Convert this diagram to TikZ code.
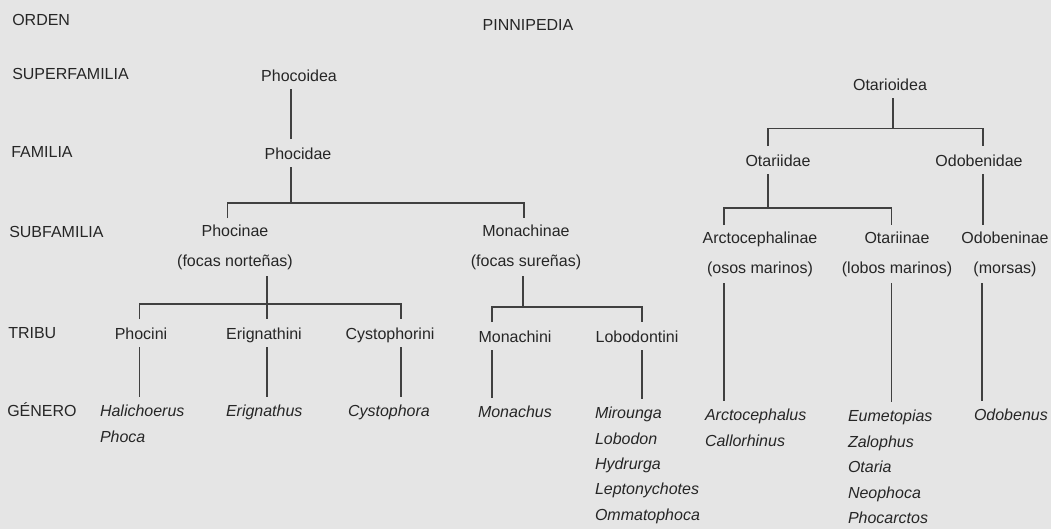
\documentclass[tikz,border=0pt]{standalone}
\usepackage{fontspec}
\setmainfont{Liberation Sans}
\begin{document}
\begin{tikzpicture}[x=0.75pt,y=-0.75pt,
    every node/.style={font=\fontsize{12}{14}\selectfont,text=black!85},
    rango/.style={anchor=base west,inner sep=0pt},
    taxon/.style={anchor=base,inner sep=0pt,text height=8.6pt,text depth=0pt,
                  outer xsep=0pt,outer ysep=6.3pt},
    doble/.style={anchor=north,align=center,inner sep=0pt,outer xsep=0pt,
                  outer ysep=5pt,font=\fontsize{12}{22.5}\selectfont},
    genero/.style={anchor=north west,align=left,inner sep=0pt,outer xsep=0pt,
                   outer ysep=6pt,font=\itshape\fontsize{12}{19.1}\selectfont},
    rama/.style={draw=black!75,line width=1.1pt}]
  \fill[black!10] (0,0) rectangle (1051,529);
  \useasboundingbox (0,0) rectangle (1051,529);
  \foreach \rn/\rx/\ry/\rt in {orden/12/25/ORDEN,superfamilia/12/79/SUPERFAMILIA,
      familia/11/157/FAMILIA,subfamilia/9/237/SUBFAMILIA,tribu/8/338/TRIBU,
      genero/7/416/GÉNERO}
    \node[rango] (r\rn) at (\rx,\ry) {\rt};

  \node[taxon] (pinnipedia) at (528,30) {PINNIPEDIA};
  \node[taxon] (phocoidea) at (299,81) {Phocoidea};
  \node[taxon] (phocidae) at (298,159) {Phocidae};
  \node[taxon] (otarioidea) at (890,90) {Otarioidea};
  \node[taxon] (otariidae) at (778,166) {Otariidae};
  \node[taxon] (odobenidae) at (979,166) {Odobenidae};

  \node[doble] (phocinae) at (235,218) {Phocinae\\(focas norteñas)};
  \node[doble] (monachinae) at (526,218) {Monachinae\\(focas sureñas)};
  \node[doble] (arctocephalinae) at (760,225) {Arctocephalinae\\(osos marinos)};
  \node[doble] (otariinae) at (897,225) {Otariinae\\(lobos marinos)};
  \node[doble] (odobeninae) at (1005,225) {Odobeninae\\(morsas)};

  \node[taxon] (phocini) at (141,339) {Phocini};
  \node[taxon] (erignathini) at (264,339) {Erignathini};
  \node[taxon] (cystophorini) at (390,339) {Cystophorini};
  \node[taxon] (monachini) at (515,342) {Monachini};
  \node[taxon] (lobodontini) at (637,342) {Lobodontini};

  \node[genero] (halichoerus) at (100,397) {Halichoerus\\Phoca};
  \node[genero] (erignathus) at (226,397) {Erignathus};
  \node[genero] (cystophora) at (348,397) {Cystophora};
  \node[genero] (monachus) at (478,398) {Monachus};
  \node[genero] (mirounga) at (595,399)
    {Mirounga\\Lobodon\\Hydrurga\\Leptonychotes\\Ommatophoca};
  \node[genero] (arctocephalus) at (705,401) {Arctocephalus\\Callorhinus};
  \node[genero] (eumetopias) at (848,402)
    {Eumetopias\\Zalophus\\Otaria\\Neophoca\\Phocarctos};
  \node[genero] (odobenus) at (974,401) {Odobenus};

  \draw[rama] ([xshift=-5.25pt]phocidae.north) -- ([xshift=-5.25pt]phocidae.north |- phocoidea.south);
  \draw[rama] ([xshift=-5.6pt]phocinae.north) -- ++(0,-15) coordinate (barphocidae)
    -| ([xshift=-1.5pt]monachinae.north);
  \draw[rama] ([xshift=-5.25pt]phocidae.south) -- ([xshift=-5.25pt]phocidae.south |- barphocidae);

  \draw[rama] ([xshift=-1.1pt]phocini.north) -- ++(0,-15) -| ([xshift=8.25pt]cystophorini.north);
  \draw[rama] ([xshift=24pt]phocinae.south) -- ([xshift=2.25pt]erignathini.north);
  \draw[rama] ([xshift=-1.1pt]phocini.south) -- ([xshift=-1.1pt]phocini.south |- halichoerus.north);
  \draw[rama] ([xshift=2.25pt]erignathini.south) -- ([xshift=2.25pt]erignathini.south |- erignathus.north);
  \draw[rama] ([xshift=8.25pt]cystophorini.south) -- ([xshift=8.25pt]cystophorini.south |- cystophora.north);

  \draw[rama] ([xshift=-17.25pt]monachini.north) -- ++(0,-15) coordinate (barmonachinae)
    -| ([xshift=3.75pt]lobodontini.north);
  \draw[rama] ([xshift=-2.25pt]monachinae.south) -- ([xshift=-2.25pt]monachinae.south |- barmonachinae);
  \draw[rama] ([xshift=-17.25pt]monachini.south) -- ([xshift=-17.25pt]monachini.south |- monachus.north);
  \draw[rama] ([xshift=3.75pt]lobodontini.south) -- ([xshift=3.75pt]lobodontini.south |- mirounga.north);

  \draw[rama] ([xshift=-7.5pt]otariidae.north) -- ++(0,-17.5) coordinate (barotarioidea)
    -| ([xshift=3pt]odobenidae.north);
  \draw[rama] ([xshift=2.25pt]otarioidea.south) -- ([xshift=2.25pt]otarioidea.south |- barotarioidea);
  \draw[rama] ([xshift=-27pt]arctocephalinae.north) -- ++(0,-17) coordinate (barotariidae)
    -| ([xshift=-4pt]otariinae.north);
  \draw[rama] ([xshift=-7.5pt]otariidae.south) -- ([xshift=-7.5pt]otariidae.south |- barotariidae);
  \draw[rama] ([xshift=3pt]odobenidae.south) -- ([xshift=3pt]odobenidae.south |- odobeninae.north);
  \draw[rama] ([xshift=-27pt]arctocephalinae.south) -- ([xshift=-27pt]arctocephalinae.south |- arctocephalus.north);
  \draw[rama] ([xshift=-4pt]otariinae.south) -- ([xshift=-4pt]otariinae.south |- eumetopias.north);
  \draw[rama] ([xshift=-17.25pt]odobeninae.south) -- ([xshift=-17.25pt]odobeninae.south |- odobenus.north);
\end{tikzpicture}
\end{document}
